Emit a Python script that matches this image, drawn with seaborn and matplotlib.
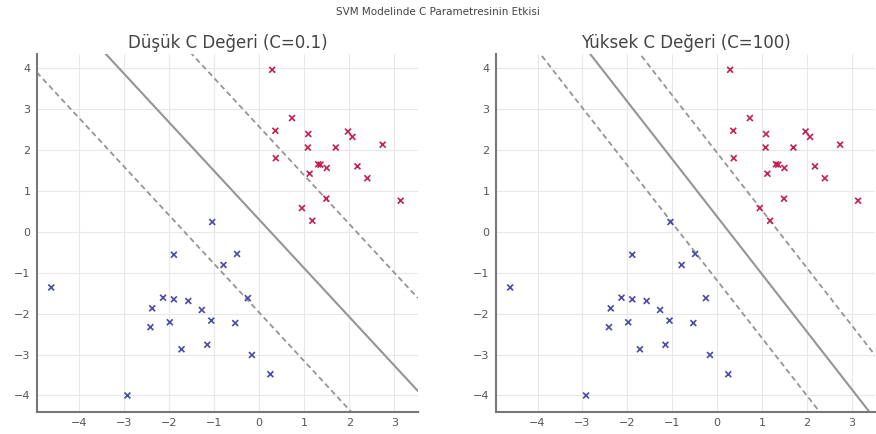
import numpy as np
import pandas as pd
import matplotlib
matplotlib.use("Agg")
import matplotlib.pyplot as plt
import seaborn as sns

# --- data ---
red_x = [0.29, 0.73, 0.36, 1.09, 1.97, 2.07, 2.74, 1.08, 1.70, 0.37,
         1.31, 1.36, 1.50, 2.18, 1.12, 2.40, 1.49, 3.14, 0.95, 1.18]
red_y = [3.96, 2.78, 2.47, 2.39, 2.45, 2.32, 2.13, 2.06, 2.06, 1.80,
         1.65, 1.64, 1.56, 1.60, 1.42, 1.31, 0.81, 0.76, 0.58, 0.27]
blue_x = [-4.61, -1.89, -0.79, -2.13, -1.89, -1.57, -2.37, -1.27, -1.06, -1.98,
          -2.41, -1.15, -1.72, -2.92, -0.49, -0.25, -0.53, -0.16, 0.25, -1.04]
blue_y = [-1.36, -0.56, -0.81, -1.61, -1.65, -1.69, -1.87, -1.91, -2.17, -2.21,
          -2.33, -2.76, -2.87, -4.00, -0.54, -1.62, -2.23, -3.01, -3.48, 0.24]

panel_titles = ["Düşük C Değeri (C=0.1)", "Yüksek C Değeri (C=100)"]
# decision boundary: y = intercept + slope * x ; margins at intercept +/- offset
slopes = [-1.19, -1.406]
intercepts = [0.30, 0.37]
margins = [2.27, 1.56]
suptitle = "SVM Modelinde C Parametresinin Etkisi"
x_ticks = [-4, -3, -2, -1, 0, 1, 2, 3]
y_ticks = [-4, -3, -2, -1, 0, 1, 2, 3, 4]

df = pd.DataFrame({
    "x": red_x + blue_x,
    "y": red_y + blue_y,
    "cls": ["red"] * len(red_x) + ["blue"] * len(blue_x),
})

sns.set_theme(style="whitegrid")
plt.rcParams["font.family"] = ["DejaVu Sans"]
plt.rcParams.update({
    "grid.color": "#e8e8e8",
    "grid.linewidth": 0.8,
    "axes.edgecolor": "#777777",
    "xtick.color": "#555555",
    "ytick.color": "#555555",
    "text.color": "#444444",
})

fig = plt.figure(figsize=(8.76, 4.34), dpi=100)
axes = [fig.add_axes([0.042, 0.051, 0.435, 0.825]),
        fig.add_axes([0.566, 0.051, 0.433, 0.825])]

palette = {"red": "#c4204f", "blue": "#4a4aa8"}
xlim = (-4.93, 3.52)
ylim = (-4.40, 4.35)

for ax, title, m, c, off in zip(axes, panel_titles, slopes, intercepts, margins):
    sns.scatterplot(data=df, x="x", y="y", hue="cls", palette=palette,
                    marker="x", s=18, linewidth=1.2, legend=False, ax=ax, zorder=3)
    xs = np.linspace(xlim[0], xlim[1], 200)
    ax.plot(xs, c + m * xs, color="#959595", lw=1.5, ls="-", zorder=2)
    ax.plot(xs, c + off + m * xs, color="#959595", lw=1.3, ls=(0, (3, 2)), zorder=2)
    ax.plot(xs, c - off + m * xs, color="#959595", lw=1.3, ls=(0, (3, 2)), zorder=2)
    ax.set_xlim(*xlim)
    ax.set_ylim(*ylim)
    ax.set_xticks(x_ticks)
    ax.set_yticks(y_ticks)
    ax.set_xlabel("")
    ax.set_ylabel("")
    ax.set_title(title, fontsize=12, color="#444444", pad=4)
    for s in ["top", "right"]:
        ax.spines[s].set_visible(False)
    for s in ["left", "bottom"]:
        ax.spines[s].set_linewidth(1.5)
        ax.spines[s].set_color("#777777")
    ax.tick_params(axis="both", labelsize=8, length=5, width=1, direction="inout",
                   colors="#555555", pad=2)

fig.suptitle(suptitle, fontsize=7.5, y=0.985, color="#444444")
fig.savefig("out.png", dpi=100)
